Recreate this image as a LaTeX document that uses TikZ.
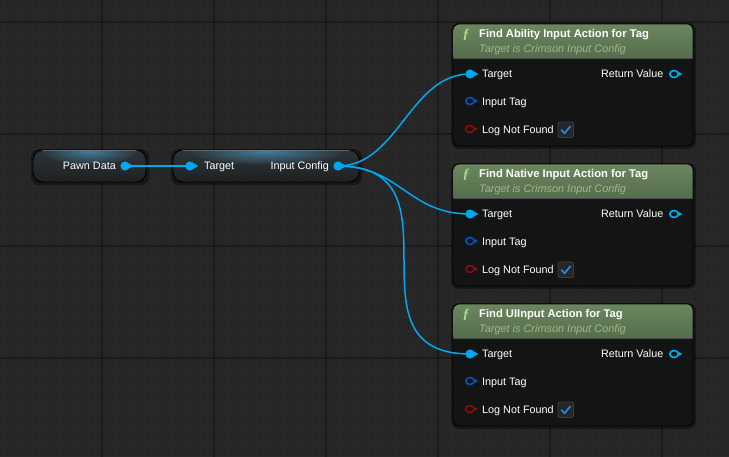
\documentclass[tikz,border=0pt]{standalone}
\usepackage{fontspec}
\setmainfont{Liberation Sans}
\newfontfamily\glyphfont{Liberation Serif}

\definecolor{graphbg}{HTML}{262626}
\definecolor{gridmajor}{HTML}{1A1A1A}
\definecolor{gridminor}{HTML}{2A2A2A}
\definecolor{pincyan}{HTML}{00A8F2}
\definecolor{pinblue}{HTML}{0C4CB6}
\definecolor{pinred}{HTML}{880B0B}
\definecolor{nodebody}{HTML}{131514}
\definecolor{headtop}{HTML}{6B875F}
\definecolor{headbot}{HTML}{546D4C}
\definecolor{subgreen}{HTML}{A6B48C}
\definecolor{fgreen}{HTML}{A8DC8E}
\definecolor{checkblue}{HTML}{1E8CFF}
\definecolor{checkedge}{HTML}{3C3F40}
\definecolor{puretop}{HTML}{2C3439}
\definecolor{purebot}{HTML}{1E2123}
\definecolor{pureglow}{HTML}{427E9C}

\tikzset{
  wire/.style={pincyan, line width=1.5pt},
  rowtext/.style={white, font=\fontsize{10.8}{12}\selectfont, inner sep=0pt},
  titletext/.style={white, font=\fontsize{11.2}{13}\selectfont\bfseries, inner sep=0pt},
  subtext/.style={subgreen, font=\fontsize{10.9}{13}\selectfont\itshape, inner sep=0pt},
  purenode/.style={rounded corners=10pt, top color=puretop, bottom color=purebot},
  pureedge/.style={draw=black, line width=0.9pt, rounded corners=10pt},
  funcbody/.style={fill=nodebody, draw=black, line width=0.8pt, rounded corners=6pt},
  nodeshadow/.style={fill=black, opacity=0.4, rounded corners=8pt},
  objpin/.pic={
    \fill[pincyan] (0,0) circle (4.6);
    \fill[pincyan] (4,2.6) -- (8,0) -- (4,-2.6) -- cycle;},
  openpin/.pic={
    \draw[#1, line width=1.7pt] (0,0) ellipse (4.2 and 3.5);
    \fill[#1] (4.5,2.4) -- (8,0) -- (4.5,-2.4) -- cycle;},
}

\begin{document}
\begin{tikzpicture}[x=1pt, y=-1pt, line cap=round, line join=round]
  \useasboundingbox (0,0) rectangle (729,457);
  % background grid
  \fill[graphbg] (0,0) rectangle (729,457);
  \foreach \gx in {4,18,...,728} \draw[gridminor, line width=0.6pt] (\gx,0) -- (\gx,457);
  \foreach \gy in {8,22,...,456} \draw[gridminor, line width=0.6pt] (0,\gy) -- (729,\gy);
  \foreach \gx in {102,214,326,438,550,662} \draw[gridmajor, line width=1.4pt] (\gx,0) -- (\gx,457);
  \foreach \gy in {22,134,246,358} \draw[gridmajor, line width=1.4pt] (0,\gy) -- (729,\gy);

  % pure nodes
  \foreach \xa/\xb in {33/146, 173/359}{
    \fill[nodeshadow] (\xa-2,149) rectangle (\xb+3,185);
    \begin{scope}
      \clip[rounded corners=10pt] (\xa,150) rectangle (\xb,182);
      \fill[purenode] (\xa,150) rectangle (\xb,182);
      \shade[inner color=pureglow, outer color=puretop] ({(\xa+\xb)/2},151) ellipse ({(\xb-\xa)*0.42} and 13);
      \draw[white!30, line width=0.8pt, opacity=0.5] (\xa+8,150.8) -- (\xb-8,150.8);
    \end{scope}
    \draw[pureedge] (\xa,150) rectangle (\xb,182);
  }
  \node[rowtext, anchor=base east] (pawn-lbl) at (116,169.5) {Pawn Data};
  \coordinate (pawn-out) at (125,166);
  \node[rowtext, anchor=base west] (cfg-lbl) at (204,169.5) {Target};
  \node[rowtext, anchor=base east] (cfg-out-lbl) at (329,169.5) {Input Config};
  \coordinate (cfg-in) at (190,166);
  \coordinate (cfg-out) at (338,166);

  % function nodes
  \foreach \y/\title/\nm in {24/Find Ability Input Action for Tag/abil,
                             164/Find Native Input Action for Tag/nat,
                             304/Find UIInput Action for Tag/ui}{
    \fill[nodeshadow] (451,\y-1) rectangle (696,\y+125);
    \draw[funcbody] (453,\y) rectangle (693,\y+122);
    \begin{scope}
      \clip[rounded corners=6pt] (453.4,\y+0.4) rectangle (692.6,\y+121.6);
      \fill[top color=headtop, bottom color=headbot] (453,\y) rectangle (693,\y+34);
      \draw[black!70, line width=0.6pt] (453,\y+34) -- (693,\y+34);
    \end{scope}
    \node[fgreen, inner sep=0pt, font=\glyphfont\bfseries\itshape\fontsize{14}{16}\selectfont] (\nm-f) at (466,\y+10.5) {ƒ};
    \node[titletext, anchor=base west] (\nm-title) at (479,\y+13.7) {\title};
    \node[subtext, anchor=base west] (\nm-sub) at (479,\y+29) {Target is Crimson Input Config};
    % rows
    \node[rowtext, anchor=base west] (\nm-target-lbl) at (482,\y+54) {Target};
    \node[rowtext, anchor=base west] (\nm-tag-lbl) at (482,\y+81.3) {Input Tag};
    \node[rowtext, anchor=base west] (\nm-log-lbl) at (482,\y+109.2) {Log Not Found};
    \node[rowtext, anchor=base east] (\nm-ret-lbl) at (663.5,\y+54) {Return Value};
    \coordinate (\nm-target) at (470,\y+50);
    \coordinate (\nm-tag) at (470,\y+77);
    \coordinate (\nm-log) at (470,\y+105);
    \coordinate (\nm-ret) at (674,\y+50);
    % checkbox
    \draw[fill=black!85, draw=checkedge, line width=0.8pt, rounded corners=2pt] (558,\y+98) rectangle (573.5,\y+113.5);
    \draw[checkblue, line width=1.6pt] (561.5,\y+106) -- (564.6,\y+109.3) -- (570.2,\y+102.4);
  }

  % wires
  \draw[wire] (pawn-out) -- (cfg-in);
  \draw[wire] (cfg-out) .. controls +(60,0) and +(-60,0) .. (abil-target);
  \draw[wire] (cfg-out) .. controls +(62,0) and +(-62,0) .. (nat-target);
  \draw[wire] (cfg-out) .. controls +(131,0) and +(-131,0) .. (ui-target);

  % pins
  \pic at (pawn-out) {objpin};
  \pic at (cfg-in) {objpin};
  \pic at (cfg-out) {objpin};
  \foreach \nm in {abil,nat,ui}{
    \pic at (\nm-target) {objpin};
    \pic at (\nm-tag) {openpin=pinblue};
    \pic at (\nm-log) {openpin=pinred};
    \pic at (\nm-ret) {openpin=pincyan};
  }
\end{tikzpicture}
\end{document}
